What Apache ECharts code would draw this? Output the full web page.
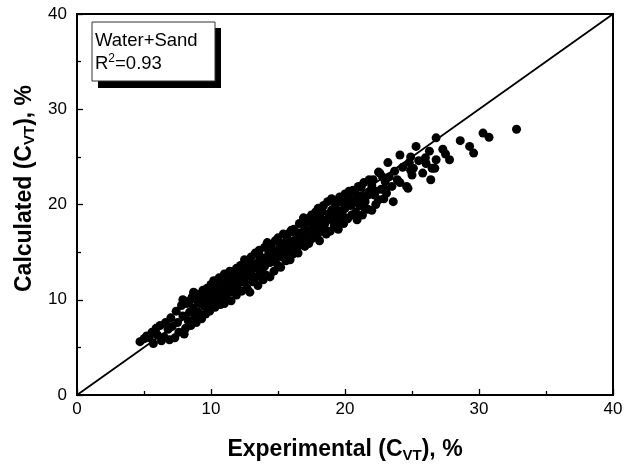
<!DOCTYPE html>
<html>
<head>
<meta charset="utf-8">
<script src="https://cdn.jsdelivr.net/npm/echarts@6/dist/echarts.min.js"></script>
<style>
  html, body { margin: 0; padding: 0; background: #fff; }
  #chart { width: 627px; height: 468px; }
</style>
</head>
<body>
<div id="chart"></div>
<script>
// experimental vs calculated C_VT (%)
var experimental = [
  4.7, 5.0, 5.2, 5.4, 5.7, 5.6, 5.9, 6.0, 6.3, 6.2, 6.5, 6.6, 6.8, 6.9, 7.0, 7.1, 7.3, 7.4, 7.5, 7.6,
  7.8, 7.9, 7.9, 8.0, 8.1, 8.2, 8.3, 8.4,
  8.5, 8.6, 8.7, 8.8, 8.9, 8.9, 9.0, 9.1, 9.2, 9.3, 9.4, 9.5, 9.6, 9.7, 9.7, 9.8, 9.9, 10.0, 10.0, 10.1,
  10.2, 10.2, 10.3, 10.4, 10.5, 10.6, 10.6, 10.7, 10.8, 10.9, 11.0, 11.0, 11.1, 11.2, 11.3, 11.4, 11.4,
  11.5, 11.6, 11.7, 11.8, 11.9, 11.9, 12.0, 12.1,
  8.4, 8.7, 9.0, 9.2, 9.4, 9.6, 9.9, 10.1, 10.4, 10.8, 11.1, 11.3, 11.6, 11.8, 12.0,
  12.2, 12.3, 12.4, 12.5, 12.5, 12.6, 12.7, 12.8, 12.9, 12.9, 13.0, 13.1, 13.2, 13.3, 13.4, 13.5, 13.5,
  13.6, 13.7, 13.8, 13.9, 14.0, 14.0, 14.1, 14.2, 14.3, 14.4, 14.4, 14.5, 14.6, 14.7, 14.8, 14.9, 15.0,
  15.0, 15.1, 15.2, 15.3, 15.4, 15.5, 15.6, 15.7, 15.8, 15.9, 15.9, 16.0,
  12.2, 12.4, 12.7, 12.9, 13.1, 13.3, 13.6, 13.8, 14.1, 14.3, 14.6, 14.8, 15.1, 15.3, 15.5, 15.7, 16.0, 16.2,
  16.1, 16.2, 16.3, 16.4, 16.5, 16.6, 16.6, 16.7, 16.8, 16.9, 17.0, 17.0, 17.1, 17.2, 17.3, 17.4, 17.5,
  17.5, 17.6, 17.7, 17.8, 17.9, 18.0, 18.0, 18.1, 18.2, 18.3, 18.4, 18.5, 18.6, 18.7, 18.8, 18.9, 19.0,
  19.0, 19.1, 19.2, 19.3, 19.4, 19.5, 19.6, 19.6, 19.7, 19.8, 19.9, 20.0, 20.0,
  16.4, 16.6, 16.9, 17.1, 17.3, 17.6, 17.8, 18.1, 18.3, 18.5, 18.8, 19.0, 19.3, 19.5, 19.8, 20.0,
  20.1, 20.2, 20.3, 20.4, 20.5, 20.6, 20.7, 20.8, 20.9, 21.0, 21.1, 21.2, 21.3, 21.4, 21.5, 21.6, 21.7,
  21.8, 21.9, 22.0, 22.1, 22.2, 22.3, 22.5, 22.6, 22.7, 22.9, 23.0, 23.1, 23.2, 23.3, 23.5, 23.6, 23.7, 23.9,
  20.2, 20.5, 20.8, 21.0, 21.2, 21.5, 21.7, 22.0, 22.3, 22.5, 22.8, 23.0,
  24.1, 24.1, 24.3, 24.6, 24.7, 24.8, 24.9, 24.9, 25.0, 25.1, 25.3, 25.5, 25.8, 26.0, 26.05, 26.3, 26.4,
  26.5, 26.7, 26.8, 26.8, 27.3, 27.5, 27.8, 28.6, 29.3, 29.6, 30.3, 30.75, 32.8
];
var calculated = [
  5.6, 5.9, 6.2, 6.0, 5.4, 6.6, 7.0, 6.3, 5.7, 7.3, 6.1, 7.6, 6.9, 5.8, 8.1, 7.2, 6.0, 8.8, 7.6, 6.6,
  9.4, 8.3, 10.0, 6.4, 7.0, 9.6, 7.8, 8.7,
  7.3, 10.3, 9.1, 8.2, 10.6, 7.6, 9.8, 8.6, 10.2, 8.0, 11.0, 9.3, 8.5, 11.2, 10.1, 9.0, 8.8, 11.6, 10.4, 9.5,
  12.0, 10.9, 9.2, 11.3, 9.8, 12.3, 10.6, 9.5, 11.8, 11.0, 9.6, 12.7, 10.3, 11.5, 12.2, 10.8, 13.0,
  9.9, 11.9, 11.0, 12.6, 10.5, 13.3, 11.6, 12.3,
  9.9, 10.8, 8.3, 9.6, 10.0, 10.6, 10.0, 11.1, 10.2, 10.3, 11.8, 11.1, 12.5, 11.4, 12.9,
  13.6, 10.9, 12.9, 11.8, 14.2, 12.4, 11.2, 13.8, 10.8, 12.8, 14.5, 11.9, 13.3, 14.9, 12.4, 11.5, 13.9,
  15.2, 12.9, 14.4, 12.1, 15.5, 13.5, 12.6, 16.0, 14.8, 12.4, 13.9, 15.6, 14.3, 13.0, 16.2, 14.9, 13.6,
  16.5, 15.4, 13.4, 14.5, 16.9, 15.8, 14.1, 16.4, 15.1, 14.2, 17.1, 16.0,
  12.0, 13.4, 13.2, 14.0, 12.5, 13.6, 14.6, 13.1, 14.3, 15.3, 15.0, 14.0, 14.6, 15.9, 14.9, 15.6, 17.3, 16.2,
  14.8, 17.4, 15.6, 16.6, 14.9, 18.0, 17.0, 15.9, 16.3, 18.6, 15.6, 17.5, 16.8, 18.2, 15.9, 17.1, 18.9,
  16.4, 17.8, 16.6, 19.2, 18.3, 17.0, 19.6, 16.2, 18.6, 17.5, 19.9, 18.0, 16.9, 20.3, 19.0, 17.2, 18.4,
  20.6, 19.5, 17.8, 20.0, 18.9, 17.4, 20.8, 19.3, 18.2, 20.2, 18.0, 21.1, 19.6,
  15.4, 16.8, 17.1, 18.5, 16.7, 18.5, 17.3, 18.0, 19.3, 17.4, 18.5, 19.4, 18.3, 20.3, 19.0, 18.5,
  20.5, 18.5, 21.4, 19.9, 18.9, 21.5, 20.4, 19.2, 18.4, 21.9, 19.9, 20.9, 18.9, 22.3, 20.3, 20.9, 19.5,
  22.6, 21.4, 19.4, 22.6, 21.0, 20.0, 23.4, 23.3, 21.6, 20.6, 22.4, 21.2, 24.4, 22.9, 21.9, 20.3, 23.5, 22.6,
  20.9, 20.0, 21.1, 20.2, 21.8, 19.5, 21.0, 22.0, 21.4, 20.5, 22.9, 21.6,
  25.2, 22.3, 23.9, 21.9, 21.7, 24.4, 23.6, 25.0, 23.1, 23.8, 26.1, 24.6, 23.3, 24.9, 24.3, 25.6, 22.6,
  23.8, 23.8, 24.7, 27.0, 25.8, 25.3, 24.7, 26.7, 26.1, 25.4, 27.5, 27.05, 27.9
];
var parityLine = [0, 40];
var axisTicks = [0, 10, 20, 30, 40];

var points = experimental.map(function (x, i) { return [x, calculated[i]]; });
var fontFamily = 'Arial, "Liberation Sans", sans-serif';

function axisCommon(nameGap) {
  return {
    type: 'value',
    min: axisTicks[0],
    max: axisTicks[axisTicks.length - 1],
    interval: axisTicks[1] - axisTicks[0],
    nameLocation: 'middle',
    nameGap: nameGap,
    nameTextStyle: {
      color: '#000',
      fontFamily: fontFamily,
      fontWeight: 'bold',
      fontSize: 23,
      rich: {
        sub: { fontSize: 15, fontWeight: 'bold', fontFamily: fontFamily, color: '#000', verticalAlign: 'bottom', padding: [11, 0, 0, 0] }
      }
    },
    axisLine: { show: true, lineStyle: { color: '#000', width: 2 } },
    axisTick: { show: true, inside: true, length: 6, lineStyle: { color: '#000', width: 1.3 } },
    minorTick: { show: true, splitNumber: 2, length: 4, lineStyle: { color: '#000', width: 1.3 } },
    splitLine: { show: false },
    axisLabel: { color: '#000', fontFamily: fontFamily, fontSize: 17 }
  };
}

var xAxis = axisCommon(42);
xAxis.name = 'Experimental (C{sub|VT}), %';
xAxis.axisLabel.margin = 6;
var yAxis = axisCommon(39);
yAxis.name = 'Calculated (C{sub|VT}), %';
yAxis.nameTextStyle.padding = [0, 0, 0, 32];
yAxis.axisLabel.margin = 10;

var chart = echarts.init(document.getElementById('chart'));
chart.setOption({
  animation: false,
  backgroundColor: '#fff',
  grid: {
    left: 77, right: 14, top: 14, bottom: 73,
    outerBoundsMode: 'none', containLabel: false,
    show: true, borderColor: '#000', borderWidth: 2
  },
  xAxis: xAxis,
  yAxis: yAxis,
  series: [
    {
      type: 'line',
      data: [[parityLine[0], parityLine[0]], [parityLine[1], parityLine[1]]],
      symbol: 'none',
      lineStyle: { color: '#000', width: 1.8 },
      silent: true
    },
    {
      type: 'scatter',
      data: points,
      symbol: 'circle',
      symbolSize: 9,
      itemStyle: { color: '#000', opacity: 1 }
    }
  ],
  graphic: [
    { type: 'rect', shape: { x: 98, y: 28, width: 123, height: 60 }, style: { fill: '#000' } },
    { type: 'rect', shape: { x: 92, y: 22, width: 123, height: 59 }, style: { fill: '#fff', stroke: '#333', lineWidth: 1 } },
    { type: 'text', left: 95, top: 31, style: { text: 'Water+Sand', fontFamily: fontFamily, fontSize: 18.5, fill: '#000' } },
    {
      type: 'text', left: 95, top: 53,
      style: {
        text: 'R{sup|2}=0.93', fontFamily: fontFamily, fontSize: 18.5, fill: '#000',
        rich: { sup: { fontSize: 12, fontFamily: fontFamily, fill: '#000', verticalAlign: 'top', padding: [0, 0, 9, 0] } }
      }
    }
  ]
});
</script>
</body>
</html>
